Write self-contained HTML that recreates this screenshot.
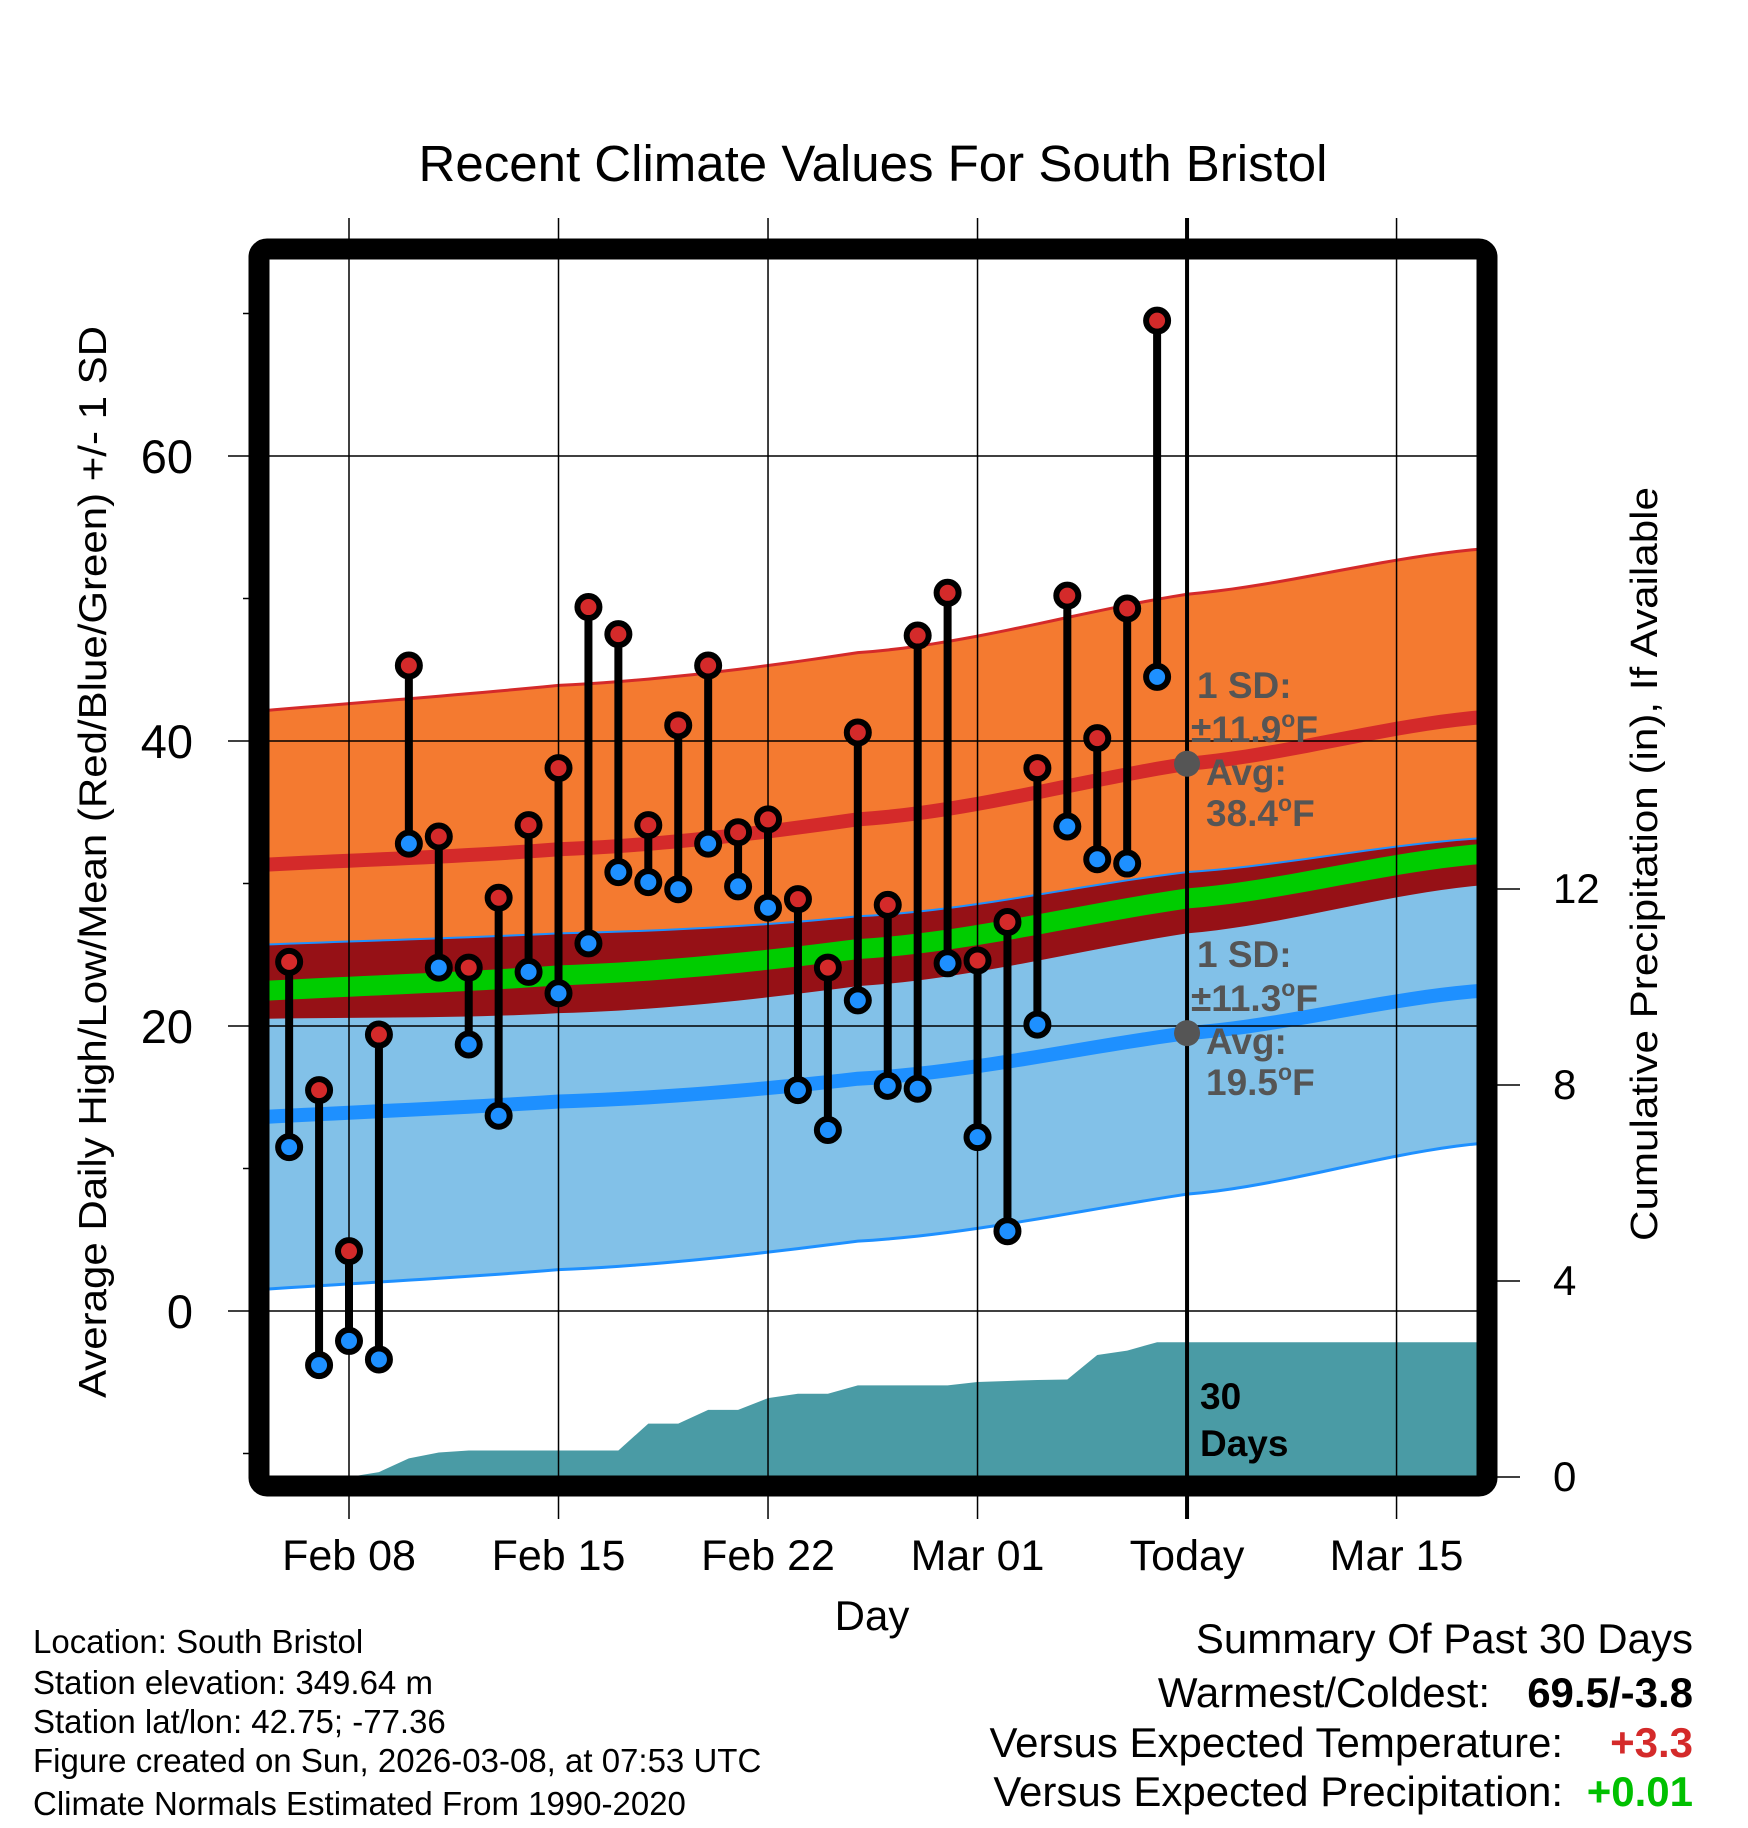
<!DOCTYPE html>
<html><head><meta charset="utf-8"><style>
html,body{margin:0;padding:0;background:#fff;}
svg{display:block;font-family:"Liberation Sans",Arial,sans-serif;}
</style></head><body>
<svg id="chart" width="1748" height="1828" viewBox="0 0 1748 1828" xmlns="http://www.w3.org/2000/svg">
<defs><clipPath id="plotclip"><rect x="259" y="249" width="1228" height="1237"/></clipPath></defs>
<text x="873" y="181" font-size="51" text-anchor="middle">Recent Climate Values For South Bristol</text>
<g id="fills" clip-path="url(#plotclip)"></g>
<g id="grid"></g>
<g id="marks" clip-path="url(#plotclip)"></g>
<rect x="259" y="249" width="1228" height="1237" rx="8" fill="none" stroke="#000" stroke-width="21"/>
<g id="axes"></g>
<text x="872" y="1630" font-size="42" text-anchor="middle">Day</text>
<text transform="translate(106,862) rotate(-90)" font-size="39" text-anchor="middle" textLength="1072" lengthAdjust="spacingAndGlyphs">Average Daily High/Low/Mean (Red/Blue/Green) +/- 1 SD</text>
<text transform="translate(1657,864) rotate(-90)" font-size="38" text-anchor="middle" textLength="754" lengthAdjust="spacingAndGlyphs">Cumulative Precipitation (in), If Available</text>
<g font-size="33">
<text x="33" y="1653">Location: South Bristol</text>
<text x="33" y="1694">Station elevation: 349.64 m</text>
<text x="33" y="1733">Station lat/lon: 42.75; -77.36</text>
<text x="33" y="1772">Figure created on Sun, 2026-03-08, at 07:53 UTC</text>
<text x="33" y="1815">Climate Normals Estimated From 1990-2020</text>
</g>
<g font-size="42">
<text x="1693" y="1653" text-anchor="end">Summary Of Past 30 Days</text>
<text x="1490" y="1707" text-anchor="end">Warmest/Coldest:</text>
<text x="1693" y="1707" text-anchor="end" font-weight="bold">69.5/-3.8</text>
<text x="1563" y="1757" text-anchor="end">Versus Expected Temperature:</text>
<text x="1693" y="1757" text-anchor="end" font-weight="bold" fill="#d42a2a">+3.3</text>
<text x="1563" y="1806" text-anchor="end">Versus Expected Precipitation:</text>
<text x="1693" y="1806" text-anchor="end" font-weight="bold" fill="#00c000">+0.01</text>
</g>
</svg>
<script>
// days relative to Feb 08
const obsDays = [-2,-1,0,1,2,3,4,5,6,7,8,9,10,11,12,13,14,15,16,17,18,19,20,21,22,23,24,25,26,27];
const highs = [24.5,15.5,4.2,19.4,45.3,33.3,24.1,29.0,34.1,38.1,49.4,47.5,34.1,41.1,45.3,33.6,34.5,28.9,24.1,40.6,28.5,47.4,50.4,24.6,27.3,38.1,50.2,40.2,49.3,69.5];
const lows = [11.5,-3.8,-2.1,-3.4,32.8,24.1,18.7,13.7,23.8,22.3,25.8,30.8,30.1,29.6,32.8,29.8,28.3,15.5,12.7,21.8,15.8,15.6,24.4,12.2,5.6,20.1,34.0,31.7,31.4,44.5];
const precipCum = [0,0,0,0.1,0.38,0.5,0.54,0.54,0.54,0.54,0.54,0.54,1.09,1.09,1.37,1.37,1.61,1.70,1.70,1.87,1.87,1.87,1.87,1.94,1.96,1.98,1.99,2.49,2.58,2.75];
const normDays = [-3,7,17,28,38];
const normHigh = [31.3,32.4,34.5,38.4,41.7];
const normHighSD = [10.8,11.5,11.7,11.9,11.8];
const normLow = [13.6,14.7,16.3,19.5,22.5];
const normLowSD = [12.1,11.8,11.4,11.3,10.7];
const xTickDays = [0,7,14,21,28,35];
const xTickLabels = ["Feb 08","Feb 15","Feb 22","Mar 01","Today","Mar 15"];
const yTicks = [0,20,40,60];
const yMinorTicks = [-10,10,30,50,70];
const y2Ticks = [0,4,8,12];

const NS="http://www.w3.org/2000/svg";
const X = d => 349 + d*29.93;
const Y = t => 1311 - t*14.25;
const YP = p => 1477 - p*49;
function mk(tag, attrs, parent){const e=document.createElementNS(NS,tag);for(const k in attrs)e.setAttribute(k,attrs[k]);parent.appendChild(e);return e;}
const fills=document.getElementById('fills'), grid=document.getElementById('grid'), marks=document.getElementById('marks'), axes=document.getElementById('axes');

// smooth (quadratic Lagrange-like via Catmull-Rom) interpolation of normals
function interp(arr,d){
  const n=normDays.length;
  let i=0;while(i<n-2&&d>normDays[i+1])i++;
  const t=(d-normDays[i])/(normDays[i+1]-normDays[i]);
  const p0=arr[Math.max(0,i-1)],p1=arr[i],p2=arr[i+1],p3=arr[Math.min(n-1,i+2)];
  const m1=(p2-p0)/2*(i===0?2:1)*0.5+ (i===0?(p2-p1)*0.0:0), m2=(p3-p1)/2;
  const t2=t*t,t3=t2*t;
  return (2*t3-3*t2+1)*p1+(t3-2*t2+t)*(i===0?(p2-p1):m1)+(-2*t3+3*t2)*p2+(t3-t2)*m2;
}
const samples=[];for(let d=-3;d<=38;d+=0.5)samples.push(d);
const hiU=d=>interp(normHigh,d)+interp(normHighSD,d), hiL=d=>interp(normHigh,d)-interp(normHighSD,d);
const loU=d=>interp(normLow,d)+interp(normLowSD,d), loL=d=>interp(normLow,d)-interp(normLowSD,d);
function band(fu,fl){let s='M'+samples.map(d=>X(d)+','+Y(fu(d))).join(' L');s+=' L'+samples.slice().reverse().map(d=>X(d)+','+Y(fl(d))).join(' L')+' Z';return s;}
function line(f){return 'M'+samples.map(d=>X(d)+','+Y(f(d))).join(' L');}

let e;
e=mk('path',{d:band(hiU,hiL),fill:'#f47a30'},fills);


e=mk('path',{d:band(loU,loL),fill:'#82c1e8'},fills);


e=mk('path',{d:band(loU,hiL),fill:'#961116'},fills);


e=mk('path',{d:line(hiU),fill:'none',stroke:'#d42a2a','stroke-width':3},fills);


e=mk('path',{d:line(loU),fill:'none',stroke:'#1e90ff','stroke-width':2},fills);


e=mk('path',{d:line(loL),fill:'none',stroke:'#1e90ff','stroke-width':3},fills);


e=mk('path',{d:line(d=>(interp(normHigh,d)+interp(normLow,d))/2),fill:'none',stroke:'#00cc00','stroke-width':20},fills);


e=mk('path',{d:line(d=>interp(normHigh,d)),fill:'none',stroke:'#d42a2a','stroke-width':14},fills);


e=mk('path',{d:line(d=>interp(normLow,d)),fill:'none',stroke:'#1e90ff','stroke-width':14},fills);



// precipitation area
let pd='M'+X(-3)+','+YP(0);
obsDays.forEach((d,i)=>{pd+=' L'+X(d)+','+YP(precipCum[i]);});
pd+=' L'+X(38.5)+','+YP(precipCum[precipCum.length-1])+' L'+X(38.5)+','+YP(0)+' Z';
e=mk('path',{d:pd,fill:'#4a9ba5'},fills);



// grid
xTickDays.forEach((d,i)=>{
  e=mk('line',{x1:X(d),x2:X(d),y1:218,y2:1519,stroke:'#000','stroke-width':d===28?4:1.5},grid);
  
  
  e=mk('text',{x:X(d),y:1570,'font-size':43,'text-anchor':'middle'},axes);
  e.textContent=xTickLabels[i];
  
  
});
yTicks.forEach(t=>{
  e=mk('line',{x1:228,x2:1478,y1:Y(t),y2:Y(t),stroke:'#000','stroke-width':1.5},grid);
  
  
  e=mk('text',{x:193,y:Y(t)+17,'font-size':47,'text-anchor':'end'},axes);
  e.textContent=t;
  
  
});
yMinorTicks.forEach(t=>{
  e=mk('line',{x1:243,x2:252,y1:Y(t),y2:Y(t),stroke:'#000','stroke-width':1.5},axes);
  
  
});
y2Ticks.forEach(p=>{
  e=mk('line',{x1:1495,x2:1520,y1:YP(p),y2:YP(p),stroke:'#000','stroke-width':1.5},axes);
  
  
  e=mk('text',{x:1553,y:YP(p)+14,'font-size':42,'text-anchor':'start'},axes);
  e.textContent=p;
  
  
});

// observations
obsDays.forEach((d,i)=>{
  e=mk('line',{x1:X(d),x2:X(d),y1:Y(highs[i]),y2:Y(lows[i]),stroke:'#000','stroke-width':8},marks);
  
  
});
obsDays.forEach((d,i)=>{
  e=mk('circle',{cx:X(d),cy:Y(highs[i]),r:11,fill:'#d42a2a',stroke:'#000','stroke-width':6},marks);
  
  
  e=mk('circle',{cx:X(d),cy:Y(lows[i]),r:11,fill:'#1e90ff',stroke:'#000','stroke-width':6},marks);
  
  
});

// today annotations
const todayIdx=3;
[[normHigh[todayIdx],normHighSD[todayIdx],'high'],[normLow[todayIdx],normLowSD[todayIdx],'low']].forEach(([avg,sd,nm])=>{
  e=mk('circle',{cx:X(28),cy:Y(avg),r:13,fill:'#555'},marks);
  
  
  const g=mk('g',{'font-size':37,'font-weight':'bold',fill:'#555'},marks);
  
  
  const y0=Y(avg);
  const t1=mk('text',{x:1197,y:y0-66},g);t1.textContent='1 SD:';
  const t2=mk('text',{x:1191,y:y0-22},g);t2.innerHTML='\u00b1'+sd.toFixed(1)+'<tspan dy="-15" font-size="23">o</tspan><tspan dy="15">F</tspan>';
  const t3=mk('text',{x:1206,y:y0+21},g);t3.textContent='Avg:';
  const t4=mk('text',{x:1206,y:y0+62},g);t4.innerHTML=avg.toFixed(1)+'<tspan dy="-15" font-size="23">o</tspan><tspan dy="15">F</tspan>';
});
e=mk('text',{x:1200,y:1409,'font-size':37,'font-weight':'bold'},marks);
e.textContent='30';


e=mk('text',{x:1200,y:1456,'font-size':37,'font-weight':'bold'},marks);
e.textContent='Days';


</script>
</body></html>
